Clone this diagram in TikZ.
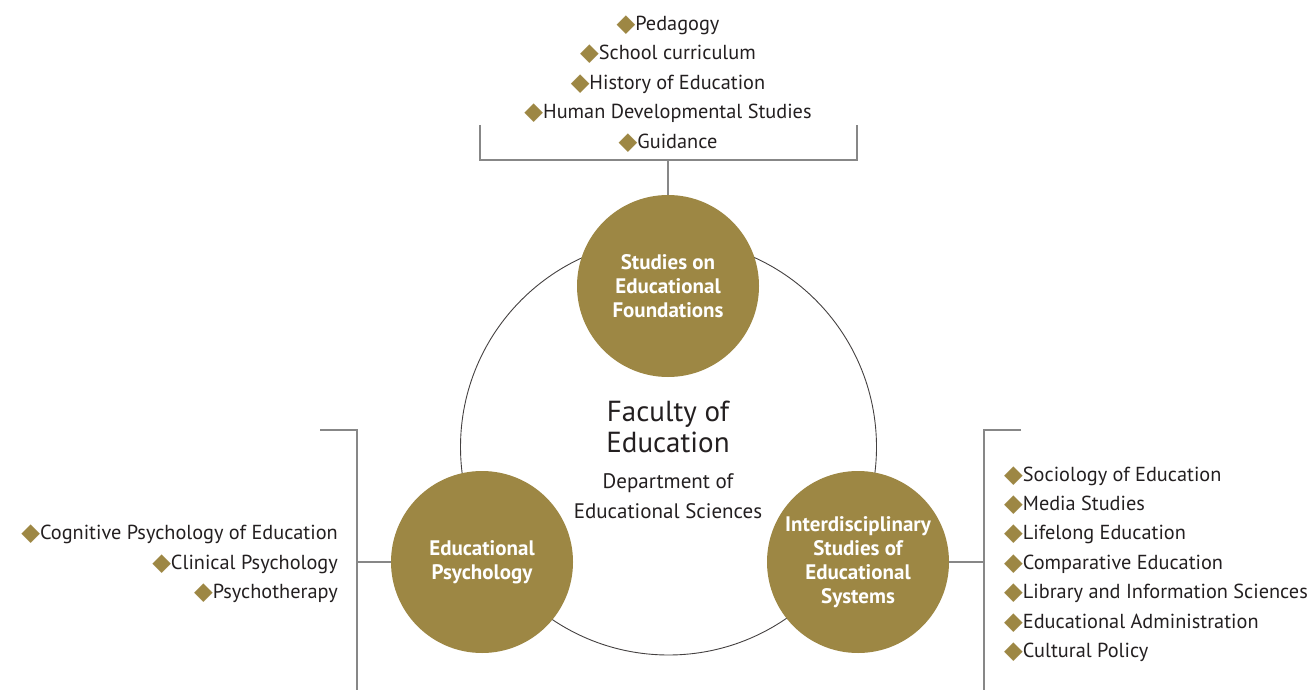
\documentclass[tikz,border=0pt]{standalone}
\usepackage{fontspec}
\setmainfont{PT Sans}
\newfontfamily\symfont{DejaVu Sans}
\definecolor{gold}{RGB}{157,135,68}
\definecolor{ink}{RGB}{35,31,32}
\definecolor{brk}{RGB}{135,135,135}
\newcommand{\dia}{{\color{gold}\symfont\raisebox{-0.05em}{\scalebox{1.2}{◆}}}}
\tikzset{
  unit/.style={circle, fill=gold, minimum size=182pt, inner sep=0pt, text=white, font=\fontsize{21}{24}\selectfont\bfseries, align=center},
  listtext/.style={inner sep=0pt, text=ink, font=\fontsize{20.3}{29.4}\selectfont},
  bracket/.style={draw=brk, line width=1.1pt},
}
\begin{document}
\begin{tikzpicture}[x=1pt,y=-1pt]
\useasboundingbox (0,0) rectangle (1309,690);
% big circle
\node[circle, draw=ink!85, line width=0.9pt, minimum size=416pt, inner sep=0pt] (big) at (668.5,447) {};
% units
\node[unit] (found) at (668,286) {Studies on\\Educational\\Foundations};
\node[unit] (psy) at (482,562) {Educational\\Psychology};
\node[unit] (sys) at (858,562) {Interdisciplinary\\Studies of\\Educational\\Systems};
% centre texts
\node[inner sep=0pt, text=ink, align=center, font=\fontsize{29}{31}\selectfont] (fac) at (668,427) {Faculty of\\Education};
\node[inner sep=0pt, text=ink, align=center, font=\fontsize{21}{30}\selectfont] (dep) at (668,496) {Department of\\Educational Sciences};
% lists
\node[listtext, align=center] (toplist) at (668,84) {\dia Pedagogy\\\dia School curriculum\\\dia History of Education\\\dia Human Developmental Studies\\\dia Guidance};
\node[listtext, align=right, anchor=east] (leftlist) at (338,564) {\dia Cognitive Psychology of Education\\\dia Clinical Psychology\\\dia Psychotherapy};
\node[listtext, align=left, anchor=west] (rightlist) at (1004,564) {\dia Sociology of Education\\\dia Media Studies\\\dia Lifelong Education\\\dia Comparative Education\\\dia Library and Information Sciences\\\dia Educational Administration\\\dia Cultural Policy};
% brackets
\coordinate (tl) at (480,125); \coordinate (tr) at (857,125);
\coordinate (tlb) at (480,160); \coordinate (trb) at (857,160);
\coordinate (tm) at (668,160);
\draw[bracket] (tl) -- (tlb) -- (trb) -- (tr);
\draw[bracket] (tm) -- (found.north);
\coordinate (lt) at (320,430); \coordinate (ltc) at (357,430); \coordinate (lb) at (357,690); \coordinate (lm) at (357,562);
\draw[bracket] (lt) -- (ltc) -- (lb);
\draw[bracket] (lm) -- (psy.west);
\coordinate (rt) at (1021,430); \coordinate (rtc) at (984,430); \coordinate (rb) at (984,690); \coordinate (rm) at (984,562);
\draw[bracket] (rt) -- (rtc) -- (rb);
\draw[bracket] (rm) -- (sys.east);
\end{tikzpicture}
\end{document}
